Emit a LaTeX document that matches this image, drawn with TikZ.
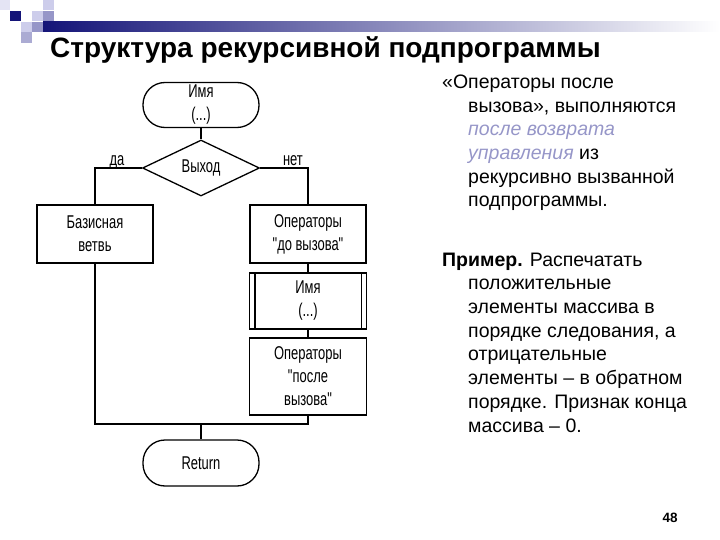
\documentclass[tikz,border=0pt]{standalone}
\usepackage{fontspec}
\setmainfont{Liberation Sans}
\newfontfamily\uzk[FakeStretch=0.7]{Liberation Sans}
\usetikzlibrary{shapes.geometric}
\newcommand{\tailfl}{\fontsize{18.5}{23}\selectfont}
\newcommand{\tailtx}{\fontsize{19.5}{23.7}\selectfont}
\definecolor{fonblue}{RGB}{20,20,120}
\definecolor{midlav}{RGB}{150,150,200}
\definecolor{litlav}{RGB}{205,205,235}
\definecolor{palelav}{RGB}{228,228,244}
\definecolor{italblue}{RGB}{150,150,200}

\begin{document}
\begin{tikzpicture}[x=1pt,y=1pt,
    blok/.style={draw,line width=1.3pt,minimum width=116pt,align=center,font=\uzk\tailfl,inner sep=2pt},
    term/.style={blok,rounded corners=22pt,minimum height=45pt},
    vybor/.style={draw,line width=1.3pt,diamond,aspect=2.1,minimum width=117pt,minimum height=56pt,inner sep=0pt,font=\uzk\tailfl},
    svyaz/.style={line width=1.3pt},
    metka/.style={font=\uzk\tailfl,inner sep=1pt,anchor=base}]
  \useasboundingbox (0,0) rectangle (720,-540);
  \fill[palelav] (0,0) rectangle (10,-10);
  \fill[fonblue] (10,-11) rectangle (21,-21);
  \fill[litlav] (32,-11) rectangle (43,-21);
  \fill[midlav] (43,-11) rectangle (54,-21);
  \fill[litlav] (43,0) rectangle (54,-10);
  \fill[litlav] (21,-22) rectangle (32,-32);
  \fill[midlav] (32,-22) rectangle (43,-32);
  \fill[midlav!80] (21,-32) rectangle (32,-43);
  \shade[left color=fonblue,middle color=midlav!90!fonblue,right color=white] (43,-22) rectangle (720,-32);
  \node[anchor=base west,inner sep=0,font=\bfseries\fontsize{28}{32}\selectfont] (title) at (50,-58) {Структура рекурсивной подпрограммы};

  \node[term] (name) at (201,-105) {Имя\\(...)};
  \node[vybor] (exit) at (201,-168) {Выход};
  \draw[svyaz] (name) -- (exit);
  \node[blok,minimum height=58pt] (base) at (95,-234) {Базисная\\ветвь};
  \draw[svyaz] (exit.west) -| (base.north);
  \node[metka] (yes) at (117,-166) {да};
  \node[blok,minimum height=58pt] (before) at (308,-234) {Операторы\\"до вызова"};
  \draw[svyaz] (exit.east) -| (before.north);
  \node[metka] (no) at (293,-166) {нет};
  \node[blok,minimum width=117pt,minimum height=56pt] (call) at (308,-301) {Имя\\(...)};
  \draw[svyaz] ([xshift=6pt]call.north west) -- ([xshift=6pt]call.south west);
  \draw[svyaz] ([xshift=-6pt]call.north east) -- ([xshift=-6pt]call.south east);
  \draw[svyaz] (before) -- (call);
  \node[blok,minimum width=117pt,minimum height=77pt] (after) at (308,-376.5) {Операторы\\"после\\вызова"};
  \draw[svyaz] (call) -- (after);
  \coordinate (join) at (201,-424);
  \draw[line width=2.2pt] (base.south) |- (join) -| (after.south);
  \node[term,minimum height=46pt] (ret) at (201,-463) {Return};
  \draw[svyaz] (join) -- (ret);

  \node[anchor=base west,align=left,inner sep=0,font=\tailtx] (opis) at (442,-207) {«Операторы после\\
    \hspace*{26pt}вызова», выполняются\\
    \hspace*{26pt}\textcolor{italblue}{\textit{после возврата}}\\
    \hspace*{26pt}\textcolor{italblue}{\textit{управления}} из\\
    \hspace*{26pt}рекурсивно вызванной\\
    \hspace*{26pt}подпрограммы.};
  \node[anchor=base west,align=left,inner sep=0,font=\tailtx] (primer) at (442,-432) {\textbf{Пример.} Распечатать\\
    \hspace*{26pt}положительные\\
    \hspace*{26pt}элементы массива в\\
    \hspace*{26pt}порядке следования, а\\
    \hspace*{26pt}отрицательные\\
    \hspace*{26pt}элементы – в обратном\\
    \hspace*{26pt}порядке. Признак конца\\
    \hspace*{26pt}массива – 0.};
  \node[anchor=base,font=\bfseries\fontsize{13.5}{16}\selectfont] (page) at (670,-522) {48};
\end{tikzpicture}
\end{document}
